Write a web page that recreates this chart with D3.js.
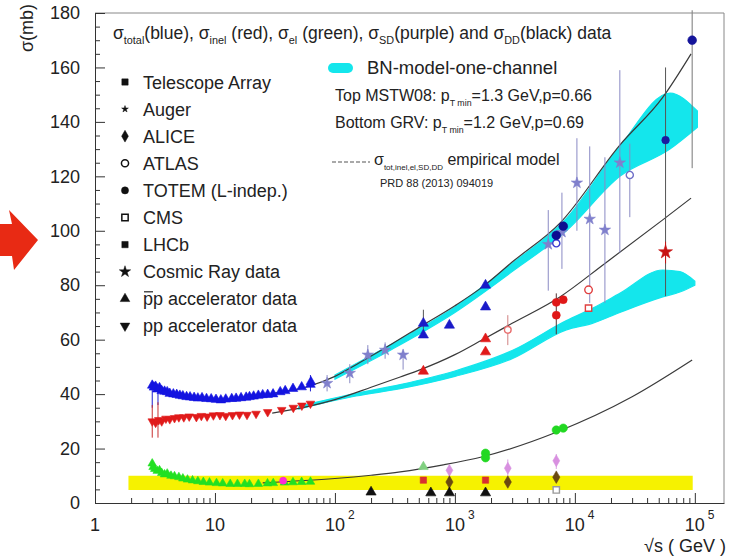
<!DOCTYPE html>
<html><head><meta charset="utf-8">
<script src="https://cdn.jsdelivr.net/npm/d3@7"></script>
<style>body{margin:0;background:#fff} svg{display:block} text{font-family:"Liberation Sans",Arial,Helvetica,sans-serif;fill:#222}</style>
</head><body><svg id="c" width="730" height="558"></svg>
<script>
// ---------- axes ----------
const xTickValues = [1, 10, 100, 1000, 10000, 100000];
const xTickBase = ["1", "10", "10", "10", "10", "10"];
const xTickExp = ["", "", "2", "3", "4", "5"];
const yTickValues = [0, 20, 40, 60, 80, 100, 120, 140, 160, 180];

// ---------- empirical model curves [sqrt(s) GeV, sigma mb] ----------
const modelTotal = [[30,40.3],[60,42.8],[100,46.5],[160,51.5],[300,58.5],[510,64.7],[1000,72.5],[1700,79.4],[3000,88.5],[7500,102.8],[23700,131.5],[54000,149],[93000,165]];
const modelInel  = [[30,33],[60,35.5],[100,38],[200,42.5],[350,46.3],[510,48.9],[1000,54.5],[1700,60],[3000,66],[7500,75.7],[17800,88],[54000,104],[93000,112]];
const modelEl    = [[25,7.4],[100,9],[200,10.2],[350,11.4],[800,14.0],[1700,17],[7000,26],[30000,39],[95000,52.5]];

// ---------- BN model bands [sqrt(s), low, high] ----------
const bandTotal = [[100,45.5,47],[300,56.5,58.5],[1000,70,72],[3000,85,88],[8500,100,104.5],[23700,120,131],[62000,130,150.6],[105000,138,144]];
const bandInel  = [[50,34.5,35.5],[150,39.3,40.3],[350,42,43.5],[1000,46.5,48.5],[3000,53,56],[8500,63.6,67],[14000,66,71.5],[23700,70,77],[54000,75.7,85.6],[75000,77.5,85],[100000,80,81.5]];
const yellowBand = [[1.9,4.8,10],[96000,4.8,10]];

// ---------- low energy accelerator data ----------
const lowTotS = [3.0,3.1,3.2,3.3,3.45,3.6,3.8,4.0,4.2,4.5,4.8,5.1,5.4,5.8,6.2,6.7,7.2,7.8,8.5,9.3,10.2,11.2,12.3,13.8,15.0,16.5,18.2,19.4,21.0,23.0,25.0,27.5,30.5,35.0,38.5,44.7,52.8,62.5,63];
const lowTotV = [43.2,42.5,42.8,41.8,42.3,41.2,41.0,40.8,40.2,40.0,39.8,39.5,39.3,39.0,38.9,38.7,38.5,38.6,38.3,38.2,38.0,37.8,38.1,38.3,38.4,38.6,38.8,39.0,39.2,39.5,39.7,39.8,40.0,40.8,41.2,42.0,42.6,43.5,44.5];
const lowInelS = [3.0,3.2,3.4,3.6,3.9,4.2,4.6,5.0,5.5,6.1,7.0,7.7,8.6,9.7,11.0,12.3,14.0,16.0,18.5,22,27.5,36,45,53,62.5];
const lowInelV = [30.0,29.5,30.5,30.0,31.0,30.8,31.2,31.5,31.5,31.8,31.6,32.0,31.8,32.2,32.3,32.0,32.3,32.5,32.4,32.8,33.4,34.2,35.0,35.8,36.5];
const lowElS = [3.0,3.05,3.15,3.3,3.45,3.6,3.8,4.0,4.3,4.6,5.0,5.4,5.9,6.5,7.2,8.0,9.0,10.3,11.6,13.4,15.4,17.7,19.4,23,27.4,30.6,38,44.7,52.8,62.5];
const lowElV = [14.5,13.2,12.5,11.8,12.0,11.0,10.5,10.8,10.0,9.8,9.5,9.0,8.6,8.3,8.0,7.7,7.5,7.3,7.2,7.0,7.0,7.0,6.9,7.0,7.2,7.3,7.5,7.6,7.7,7.8];
const lowBars = [[3.0,35,44,"tot"],[3.35,36,43,"tot"],[3.0,24,36,"inel"],[3.35,24,37,"inel"],[62.5,41,47,"tot"]];

// ---------- high energy data [sqrt(s), sigma, errLow, errHigh] ----------
const totAccel   = [[546,61.7],[546,66,61,71],[900,65.3],[1800,72.0],[1800,80.0]];
const totTOTEM   = [[7000,98.3],[8000,101.7]];
const totATLAS   = [[7000,95.4]];
const totAuger   = [[57000,133.3,76,160]];
const totTA      = [[95000,170,123,181]];
const totCosmic  = [[86,44,41,47],[133,47.7,44,51],[188,54.4,51,58],[262,56.2,53,59],[370,54.4,49,56],[6000,95,78,107.6],[7800,99.5,86,114],[10400,117.6,100,134],[13300,104.3,73.5,131],[17800,100.3,73.5,127],[23700,125,92,159]];
const totCosmicOpen = [[28700,120.5,105,132]];
const inelAccel  = [[546,48.4],[1800,60.3],[1800,55.5]];
const inelLHC    = [[7000,73.7],[8000,74.7],[7000,69,62,77]];
const inelALICE  = [[2760,63.6,58,69]];
const inel13Open = [[13000,78.3]];
const inel13Sq   = [[13000,71.6]];
const inelAuger  = [[57000,92.2,88,96]];
const elHigh     = [[1800,18.3],[1800,16.6],[7000,26.8],[8000,27.5]];
const elPale     = [[546,13.3]];
const sdPurple   = [[900,12.0,9,14],[2760,12.8,10,16],[7000,15.5,12.5,18]];
const sdRed      = [[546,8.4],[1800,8.4]];
const ddBrown    = [[900,7.7],[2760,7.7],[7000,9.5]];
const ddOpen     = [[7000,4.8]];
const ddBlack    = [[200,4.0],[630,3.7],[900,3.7],[1800,3.7]];
const sdMagenta  = [[37,8.2]];

// ---------- legend ----------
const legendNames = ["Telescope Array","Auger","ALICE","ATLAS","TOTEM (L-indep.)","CMS","LHCb","Cosmic Ray data","pp accelerator data","pp accelerator data"];
const legendBar = [false,false,false,false,false,false,false,false,true,false];
const legendShapes = ["square","smallstar","diamond","opencircle","circle","opensquare","square","star","triangle","triangledown"];

// ======================================================
const svg = d3.select("#c");
const x = d3.scaleLog().domain([1, 1.75e5]).range([95, 724]);
const y = d3.scaleLinear().domain([0, 180]).range([503, 13]);

svg.append("rect").attr("width",730).attr("height",558).attr("fill","#fff");

// red arrow
svg.append("polygon")
  .attr("points", [[0,224],[12,224],[9,210],[38,240],[14,270],[12,256],[0,256]].map(p=>p.join(",")).join(" "))
  .attr("fill","#e82a14");

const g = svg.append("g");

// yellow band
g.append("path").datum(yellowBand)
  .attr("d", d3.area().x(d=>x(d[0])).y0(d=>y(d[1])).y1(d=>y(d[2])))
  .attr("fill","#f6f200");

// cyan bands
[bandTotal, bandInel].forEach(b=>{
  g.append("path").datum(b)
   .attr("d", d3.area().x(d=>x(d[0])).y0(d=>y(d[1])).y1(d=>y(d[2])).curve(d3.curveMonotoneX))
   .attr("fill","#14e6ec").attr("stroke","#14e6ec").attr("stroke-width",1.2);
});

// model curves
const line = d3.line().x(d=>x(d[0])).y(d=>y(d[1])).curve(d3.curveMonotoneX);
[modelTotal, modelInel, modelEl].forEach(m=>{
  g.append("path").datum(m).attr("d", line).attr("fill","none").attr("stroke","#3a3a3a").attr("stroke-width",1.2);
});

function symPath(shape, size){
  const map = {square:d3.symbolSquare, opensquare:d3.symbolSquare, circle:d3.symbolCircle, opencircle:d3.symbolCircle,
    diamond:d3.symbolDiamond, star:d3.symbolStar, smallstar:d3.symbolStar, triangle:d3.symbolTriangle, triangledown:d3.symbolTriangle};
  return d3.symbol().type(map[shape]).size(size)();
}
function drawSeries(data, shape, color, size, barColor){
  const grp = g.append("g");
  data.forEach(d=>{
    if (d.length > 2){
      grp.append("line").attr("x1",x(d[0])).attr("x2",x(d[0])).attr("y1",y(d[2])).attr("y2",y(d[3]))
        .attr("stroke", barColor || color).attr("stroke-width",1);
    }
  });
  data.forEach(d=>{
    const open = shape.startsWith("open");
    grp.append("path").attr("d", symPath(shape,size))
      .attr("transform", `translate(${x(d[0])},${y(d[1])})` + (shape==="triangledown"?" rotate(180)":""))
      .attr("fill", open ? "#fff" : color).attr("stroke", color).attr("stroke-width", open?1.4:0.6);
  });
}

lowBars.forEach(b=>{
  g.append("line").attr("x1",x(b[0])).attr("x2",x(b[0])).attr("y1",y(b[1])).attr("y2",y(b[2]))
   .attr("stroke", b[3]==="tot" ? "#2020d0" : "#c83030").attr("stroke-width",1);
});
drawSeries(lowTotS.map((s,i)=>[s,lowTotV[i]]), "triangle", "#1414e0", 40);
drawSeries(lowInelS.map((s,i)=>[s,lowInelV[i]]), "triangledown", "#e01a1a", 32);
drawSeries(lowElS.map((s,i)=>[s,lowElV[i]]), "triangle", "#22e022", 32);
drawSeries(sdMagenta, "circle", "#ff2ad4", 40);

drawSeries(totCosmic, "star", "#8080cc", 40, "#8a8ac4");
drawSeries(totCosmicOpen, "opencircle", "#7070c8", 40, "#8a8ac4");
drawSeries(totAccel, "triangle", "#1a1ac8", 45, "#555");
drawSeries(totATLAS, "opencircle", "#3a3ad0", 40);
drawSeries(totTOTEM, "circle", "#0c0c90", 60);
drawSeries(totAuger, "circle", "#1a1aa0", 45, "#555");
drawSeries(totTA, "circle", "#14149a", 60, "#777");
drawSeries(inelAccel, "triangle", "#e01a1a", 45);
drawSeries(inelALICE, "opencircle", "#e87070", 35, "#d08080");
drawSeries(inelLHC, "circle", "#e01818", 50, "#553333");
drawSeries(inel13Open, "opencircle", "#e04040", 45);
drawSeries(inel13Sq, "opensquare", "#e04040", 40);
drawSeries(inelAuger, "star", "#c81414", 60);
drawSeries(elPale, "triangle", "#80d080", 40);
drawSeries(elHigh, "circle", "#22d822", 55);
drawSeries(sdPurple, "diamond", "#d890e0", 40, "#d8a0e0");
drawSeries(sdRed, "square", "#d83030", 40);
drawSeries(ddBrown, "diamond", "#6a4a10", 45);
drawSeries(ddOpen, "opensquare", "#999", 40);
drawSeries(ddBlack, "triangle", "#111", 45);

// ---------- axes ----------
const axisCol = "#333";
svg.append("line").attr("x1",95).attr("x2",724).attr("y1",13).attr("y2",13).attr("stroke","#888");
svg.append("line").attr("x1",724).attr("x2",724).attr("y1",13).attr("y2",503).attr("stroke","#888");

const yMinor = d3.range(0,181,5).filter(v=>v%20!==0);
const yAx = svg.append("g").attr("transform","translate(95,0)")
  .call(d3.axisLeft(y).tickValues(yTickValues).tickSizeInner(-10).tickSizeOuter(0).tickPadding(15).tickFormat(d3.format("d")));
svg.append("g").attr("transform","translate(95,0)")
  .call(d3.axisLeft(y).tickValues(yMinor).tickSizeInner(-5).tickSizeOuter(0).tickFormat(""))
  .select(".domain").remove();
yAx.selectAll("text").attr("font-size",18).style("font-family","'Liberation Sans',Arial,sans-serif").attr("fill","#222");

const xMinor = [];
[1,10,100,1000,10000].forEach(dd=>{ for(let k=2;k<=9;k++) xMinor.push(k*dd); });
svg.append("g").attr("transform","translate(0,503)")
  .call(d3.axisBottom(x).tickValues(xTickValues).tickSizeInner(-10).tickSizeOuter(0).tickFormat(""));
svg.append("g").attr("transform","translate(0,503)")
  .call(d3.axisBottom(x).tickValues(xMinor).tickSizeInner(-5).tickSizeOuter(0).tickFormat(""))
  .select(".domain").remove();
svg.selectAll(".domain, .tick line").attr("stroke",axisCol);

xTickValues.forEach((v,i)=>{
  svg.append("text").attr("x",x(v)).attr("y",531).attr("text-anchor","middle").attr("font-size",18).text(xTickBase[i]);
  if (xTickExp[i]) svg.append("text").attr("x",x(v)+13).attr("y",519).attr("font-size",12).text(xTickExp[i]);
});

svg.append("text").attr("transform","translate(33,28) rotate(-90)").attr("text-anchor","middle").attr("font-size",18).text("σ(mb)");
svg.append("text").attr("x",726).attr("y",552).attr("text-anchor","end").attr("font-size",18).text("√s ( GeV )");

function richText(xp, yp, segs, fs, subScale){
  const sc = subScale || 0.6;
  const t = svg.append("text").attr("x",xp).attr("y",yp).attr("font-size",fs);
  let shifted = false;
  segs.forEach(s=>{
    const ts = t.append("tspan").text(s[0]);
    if (s[1]==="sub"){ ts.attr("font-size",fs*sc).attr("dy", shifted?0:fs*0.3); shifted = true; }
    else { if (shifted){ ts.attr("dy",-fs*0.3); shifted=false; } }
  });
  return t;
}

// title
richText(113, 39, [["σ"],["total","sub"],["(blue), σ"],["inel","sub"],[" (red), σ"],["el","sub"],[" (green), σ"],["SD","sub"],["(purple) and σ"],["DD","sub"],["(black) data"]], 17.5, 0.62);

// left legend
legendNames.forEach((n,i)=>{
  const yy = 82 + i*27.1;
  const sh = legendShapes[i];
  const sz = sh==="smallstar" ? 14 : 40;
  svg.append("path").attr("d", symPath(sh, sz))
    .attr("transform",`translate(125,${yy})` + (sh==="triangledown"?" rotate(180)":""))
    .attr("fill", sh.startsWith("open") ? "#fff" : "#111").attr("stroke","#111").attr("stroke-width", sh.startsWith("open")?1.5:0.5);
  svg.append("text").attr("x",143).attr("y",yy+6.5).attr("font-size",18).text(n);
  if (legendBar[i]) svg.append("line").attr("x1",144).attr("x2",153).attr("y1",yy-7).attr("y2",yy-7).attr("stroke","#222").attr("stroke-width",1.2);
});

// right legend
svg.append("rect").attr("x",328).attr("y",63).attr("width",25).attr("height",10).attr("rx",5).attr("fill","#14e6ec");
svg.append("text").attr("x",367).attr("y",74).attr("font-size",18.5).text("BN-model-one-channel");
richText(335, 101, [["Top MSTW08: p"],["T min","sub"],["=1.3 GeV,p=0.66"]], 16, 0.55);
richText(335, 128, [["Bottom GRV: p"],["T min","sub"],["=1.2 GeV,p=0.69"]], 16, 0.55);
svg.append("line").attr("x1",332).attr("x2",370).attr("y1",162).attr("y2",162).attr("stroke","#555").attr("stroke-width",1.2).attr("stroke-dasharray","4,2");
richText(374, 165, [["σ"],["tot,inel,el,SD,DD","sub"],[" empirical model"]], 16, 0.5);
svg.append("text").attr("x",380).attr("y",187).attr("font-size",11).text("PRD 88 (2013) 094019");
</script></body></html>
